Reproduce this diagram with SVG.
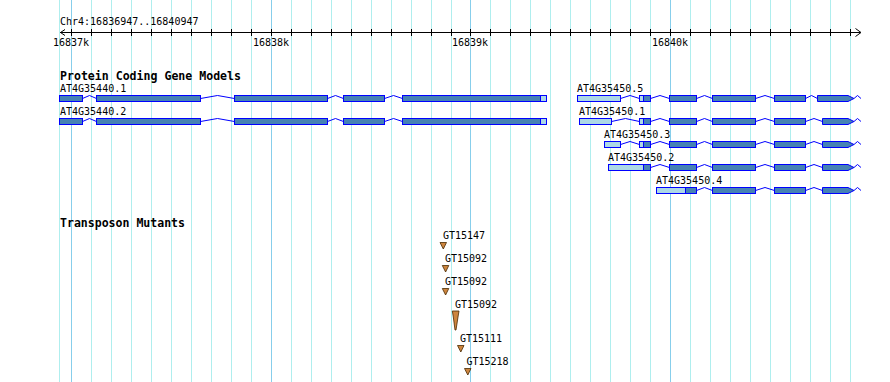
<svg xmlns="http://www.w3.org/2000/svg" width="890" height="382" viewBox="0 0 890 382">
<style>
text{font-family:"DejaVu Sans Mono","Liberation Mono",monospace;fill:#000}
.lbl{font-size:10px}
.hdr{font-size:11.6px;font-weight:bold}
.grid{stroke:#afeeee;stroke-width:1}
.major{stroke:#87ceeb;stroke-width:1}
.axis{stroke:#000;stroke-width:1;fill:none}
.cds{fill:#4682b4;stroke:#0000ff;stroke-width:1}
.utr{fill:#add8e6;stroke:#0000ff;stroke-width:1}
.intron{fill:none;stroke:#0000ff;stroke-width:1}
.tn{fill:#cd853f;stroke:#4a2a00;stroke-width:0.8}
</style>
<rect width="890" height="382" fill="#fff"/>
<g id="grid">
<path class="grid" d="M59.5,0V382M91.5,0V382M111.5,0V382M131.5,0V382M151.5,0V382M171.5,0V382M191.5,0V382M211.5,0V382M231.5,0V382M251.5,0V382M291.5,0V382M311.5,0V382M331.5,0V382M351.5,0V382M371.5,0V382M391.5,0V382M411.5,0V382M431.5,0V382M451.5,0V382M490.5,0V382M510.5,0V382M530.5,0V382M550.5,0V382M570.5,0V382M590.5,0V382M610.5,0V382M630.5,0V382M650.5,0V382M690.5,0V382M710.5,0V382M730.5,0V382M750.5,0V382M770.5,0V382M790.5,0V382M810.5,0V382M830.5,0V382M850.5,0V382"/>
<path class="major" d="M71.5,0V382M271.5,0V382M470.5,0V382M670.5,0V382"/>
</g>
<g id="ruler">
<text class="lbl" x="60" y="24.5">Chr4:16836947..16840947</text>
<path class="axis" d="M60,32.5H860.5M65,29.5L60.5,32.5L65,35.5M855.5,28.5L861,32.5L855.5,36.5"/>
<path class="axis" d="M71.5,29V36M91.5,29V36M111.5,29V36M131.5,29V36M151.5,29V36M171.5,29V36M191.5,29V36M211.5,29V36M231.5,29V36M251.5,29V36M271.5,29V36M291.5,29V36M311.5,29V36M331.5,29V36M351.5,29V36M371.5,29V36M391.5,29V36M411.5,29V36M431.5,29V36M451.5,29V36M470.5,29V36M490.5,29V36M510.5,29V36M530.5,29V36M550.5,29V36M570.5,29V36M590.5,29V36M610.5,29V36M630.5,29V36M650.5,29V36M670.5,29V36M690.5,29V36M710.5,29V36M730.5,29V36M750.5,29V36M770.5,29V36M790.5,29V36M810.5,29V36M830.5,29V36M850.5,29V36"/>
<text class="lbl" x="71" y="45.5" text-anchor="middle">16837k</text>
<text class="lbl" x="271" y="45.5" text-anchor="middle">16838k</text>
<text class="lbl" x="470" y="45.5" text-anchor="middle">16839k</text>
<text class="lbl" x="670" y="45.5" text-anchor="middle">16840k</text>
</g>
<text class="hdr" x="60" y="80" textLength="181" lengthAdjust="spacingAndGlyphs">Protein Coding Gene Models</text>
<g id="AT4G35440.1" transform="translate(0,95)">
<text class="lbl" x="60" y="-3">AT4G35440.1</text>
<path class="intron" d="M82.5,3.5L89.5,0.5L96.5,3.5M200.5,3.5L217.5,0.5L234.5,3.5M327.5,3.5L335.5,0.5L343.5,3.5M384.5,3.5L393.5,0.5L402.5,3.5"/>
<rect class="cds" x="59.5" y="0.5" width="23" height="6"/>
<rect class="cds" x="96.5" y="0.5" width="104" height="6"/>
<rect class="cds" x="234.5" y="0.5" width="93" height="6"/>
<rect class="cds" x="343.5" y="0.5" width="41" height="6"/>
<rect class="cds" x="402.5" y="0.5" width="138" height="6"/>
<rect class="utr" x="540.5" y="0.5" width="6" height="6"/>
</g>
<g id="AT4G35440.2" transform="translate(0,118)">
<text class="lbl" x="60" y="-3">AT4G35440.2</text>
<path class="intron" d="M82.5,3.5L89.5,0.5L96.5,3.5M200.5,3.5L217.5,0.5L234.5,3.5M327.5,3.5L335.5,0.5L343.5,3.5M384.5,3.5L393.5,0.5L402.5,3.5"/>
<rect class="cds" x="59.5" y="0.5" width="23" height="6"/>
<rect class="cds" x="96.5" y="0.5" width="104" height="6"/>
<rect class="cds" x="234.5" y="0.5" width="93" height="6"/>
<rect class="cds" x="343.5" y="0.5" width="41" height="6"/>
<rect class="cds" x="402.5" y="0.5" width="138" height="6"/>
<rect class="utr" x="540.5" y="0.5" width="6" height="6"/>
</g>
<g id="AT4G35450.5" transform="translate(0,95)">
<text class="lbl" x="577" y="-3">AT4G35450.5</text>
<path class="intron" d="M620.5,3.5L630,0.5L639.5,3.5M650.5,3.5L660,0.5L669.5,3.5M696.5,3.5L704.5,0.5L712.5,3.5M755.5,3.5L765,0.5L774.5,3.5M805.5,3.5L811.5,0.5L817.5,3.5M854,3.5L857.5,0.5L861,3.5"/>
<rect class="utr" x="577.5" y="0.5" width="43" height="6"/>
<rect class="utr" x="639.5" y="0.5" width="4" height="6"/>
<rect class="cds" x="643.5" y="0.5" width="7" height="6"/>
<rect class="cds" x="669.5" y="0.5" width="27" height="6"/>
<rect class="cds" x="712.5" y="0.5" width="43" height="6"/>
<rect class="cds" x="774.5" y="0.5" width="31" height="6"/>
<polygon class="cds" points="817.5,0.5 848,0.5 854,3.5 848,6.5 817.5,6.5"/>
</g>
<g id="AT4G35450.1" transform="translate(0,118)">
<text class="lbl" x="579" y="-3">AT4G35450.1</text>
<path class="intron" d="M611.5,3.5L625.5,0.5L639.5,3.5M650.5,3.5L660,0.5L669.5,3.5M696.5,3.5L704.5,0.5L712.5,3.5M755.5,3.5L765,0.5L774.5,3.5M805.5,3.5L814,0.5L822.5,3.5M854,3.5L857.5,0.5L861,3.5"/>
<rect class="utr" x="579.5" y="0.5" width="32" height="6"/>
<rect class="utr" x="639.5" y="0.5" width="4" height="6"/>
<rect class="cds" x="643.5" y="0.5" width="7" height="6"/>
<rect class="cds" x="669.5" y="0.5" width="27" height="6"/>
<rect class="cds" x="712.5" y="0.5" width="43" height="6"/>
<rect class="cds" x="774.5" y="0.5" width="31" height="6"/>
<polygon class="cds" points="822.5,0.5 848,0.5 854,3.5 848,6.5 822.5,6.5"/>
</g>
<g id="AT4G35450.3" transform="translate(0,141)">
<text class="lbl" x="604" y="-3">AT4G35450.3</text>
<path class="intron" d="M620.5,3.5L630,0.5L639.5,3.5M650.5,3.5L660,0.5L669.5,3.5M696.5,3.5L704.5,0.5L712.5,3.5M755.5,3.5L765,0.5L774.5,3.5M805.5,3.5L814,0.5L822.5,3.5M854,3.5L857.5,0.5L861,3.5"/>
<rect class="utr" x="604.5" y="0.5" width="16" height="6"/>
<rect class="utr" x="639.5" y="0.5" width="4" height="6"/>
<rect class="cds" x="643.5" y="0.5" width="7" height="6"/>
<rect class="cds" x="669.5" y="0.5" width="27" height="6"/>
<rect class="cds" x="712.5" y="0.5" width="43" height="6"/>
<rect class="cds" x="774.5" y="0.5" width="31" height="6"/>
<polygon class="cds" points="822.5,0.5 848,0.5 854,3.5 848,6.5 822.5,6.5"/>
</g>
<g id="AT4G35450.2" transform="translate(0,164)">
<text class="lbl" x="608" y="-3">AT4G35450.2</text>
<path class="intron" d="M650.5,3.5L660,0.5L669.5,3.5M696.5,3.5L704.5,0.5L712.5,3.5M755.5,3.5L765,0.5L774.5,3.5M805.5,3.5L814,0.5L822.5,3.5M854,3.5L857.5,0.5L861,3.5"/>
<rect class="utr" x="608.5" y="0.5" width="35" height="6"/>
<rect class="cds" x="643.5" y="0.5" width="7" height="6"/>
<rect class="cds" x="669.5" y="0.5" width="27" height="6"/>
<rect class="cds" x="712.5" y="0.5" width="43" height="6"/>
<rect class="cds" x="774.5" y="0.5" width="31" height="6"/>
<polygon class="cds" points="822.5,0.5 848,0.5 854,3.5 848,6.5 822.5,6.5"/>
</g>
<g id="AT4G35450.4" transform="translate(0,187)">
<text class="lbl" x="656" y="-3">AT4G35450.4</text>
<path class="intron" d="M696.5,3.5L704.5,0.5L712.5,3.5M755.5,3.5L765,0.5L774.5,3.5M805.5,3.5L814,0.5L822.5,3.5M854,3.5L857.5,0.5L861,3.5"/>
<rect class="utr" x="656.5" y="0.5" width="29" height="6"/>
<rect class="cds" x="685.5" y="0.5" width="11" height="6"/>
<rect class="cds" x="712.5" y="0.5" width="43" height="6"/>
<rect class="cds" x="774.5" y="0.5" width="31" height="6"/>
<polygon class="cds" points="822.5,0.5 848,0.5 854,3.5 848,6.5 822.5,6.5"/>
</g>
<text class="hdr" x="60" y="227" textLength="125" lengthAdjust="spacingAndGlyphs">Transposon Mutants</text>
<g id="GT15147">
<text class="lbl" x="443" y="239">GT15147</text>
<polygon class="tn" points="440,242.5 446.5,242.5 443.3,249"/>
</g>
<g id="GT15092-a">
<text class="lbl" x="445" y="262">GT15092</text>
<polygon class="tn" points="442.3,265.5 448.8,265.5 445.6,272"/>
</g>
<g id="GT15092-b">
<text class="lbl" x="445" y="285">GT15092</text>
<polygon class="tn" points="442.3,288.5 448.8,288.5 445.6,295"/>
</g>
<g id="GT15092-c">
<text class="lbl" x="455" y="308">GT15092</text>
<polygon class="tn" points="452.3,311 459,311 458,317 456,330 455,330 453.3,317"/>
</g>
<g id="GT15111">
<text class="lbl" x="460" y="341.5">GT15111</text>
<polygon class="tn" points="457.5,345.5 464,345.5 460.8,352"/>
</g>
<g id="GT15218">
<text class="lbl" x="466.5" y="364.5">GT15218</text>
<polygon class="tn" points="464.5,368.5 471,368.5 467.8,375"/>
</g>
</svg>
